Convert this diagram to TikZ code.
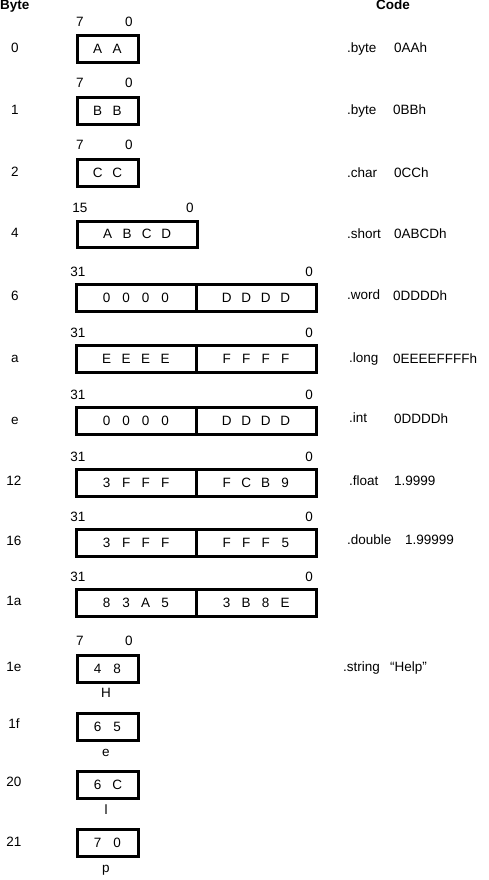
\documentclass[tikz,border=0pt]{standalone}
\usepackage{fontspec}
\setmainfont{Liberation Sans}
\newcommand\cx[1]{\makebox[19.5pt]{#1}}
\newcommand\wcell[1]{#1\hspace{6pt}}
\begin{document}
\begin{tikzpicture}[x=1pt,y=-1pt,
  font=\fontsize{13.5}{16}\selectfont,
  txt/.style={inner sep=0pt, text height=10pt, text depth=3pt},
  lt/.style={txt, anchor=west},
  hdr/.style={txt, font=\fontsize{13.5}{16}\selectfont\bfseries},
  cell/.style={draw, line width=3pt, inner sep=0pt, minimum height=27pt, anchor=north west},
  small/.style={cell, minimum width=61pt},
  half/.style={cell, minimum width=120pt}]
\useasboundingbox (0,0) rectangle (488,880);
% headers
\node[hdr, anchor=west] (hbyte) at (0,6.5) {Byte};
\node[hdr] (hcode) at (393,6.5) {Code};
% row 0
\node[small] (b0) at (75.5,34) {\cx{A}\cx{A}};
\node[txt] (b0h) at (80,23) {7};
\node[txt] (b0l) at (129,23) {0};
\node[txt] (b0a) at (15,49) {0};
\node[lt] (b0c) at (347,49) {.byte};
\node[lt] (b0v) at (394,49) {0AAh};
% row 1
\node[small] (b1) at (75.5,96) {\cx{B}\cx{B}};
\node[txt] (b1h) at (80,84) {7};
\node[txt] (b1l) at (129,84) {0};
\node[txt] (b1a) at (15,111) {1};
\node[lt] (b1c) at (347,111) {.byte};
\node[lt] (b1v) at (393,111) {0BBh};
% row 2
\node[small] (b2) at (75.5,158) {\cx{C}\cx{C}};
\node[txt] (b2h) at (80,146) {7};
\node[txt] (b2l) at (129,146) {0};
\node[txt] (b2a) at (15,173) {2};
\node[lt] (b2c) at (347,174) {.char};
\node[lt] (b2v) at (394,174) {0CCh};
% row 4
\node[cell, minimum width=120pt, minimum height=26pt] (b4) at (75.5,219.5) {\cx{A}\cx{B}\cx{C}\cx{D}\hspace{12pt}};
\node[txt] (b4h) at (80,209) {15};
\node[txt] (b4l) at (190,209) {0};
\node[txt] (b4a) at (15,234) {4};
\node[lt] (b4c) at (347,235) {.short};
\node[lt] (b4v) at (394,235) {0ABCDh};
% row 6
\node[half] (b6L) at (74.5,282.5) {\wcell{\cx{0}\cx{0}\cx{0}\cx{0}}};
\node[half] (b6R) at (194.5,282.5) {\wcell{\cx{D}\cx{D}\cx{D}\cx{D}}};
\node[txt] (b6h) at (78,273) {31};
\node[txt] (b6l) at (309,273) {0};
\node[txt] (b6a) at (15,297) {6};
\node[lt] (b6c) at (347,296) {.word};
\node[lt] (b6v) at (393,297) {0DDDDh};
% row a
\node[half] (baL) at (74.5,343.5) {\wcell{\cx{E}\cx{E}\cx{E}\cx{E}}};
\node[half] (baR) at (194.5,343.5) {\wcell{\cx{F}\cx{F}\cx{F}\cx{F}}};
\node[txt] (bah) at (78,334) {31};
\node[txt] (bal) at (309,334) {0};
\node[txt] (baa) at (15,359) {a};
\node[lt] (bac) at (349,359) {.long};
\node[lt] (bav) at (393,360) {0EEEEFFFFh};
% row e
\node[half] (beL) at (74.5,405.5) {\wcell{\cx{0}\cx{0}\cx{0}\cx{0}}};
\node[half] (beR) at (194.5,405.5) {\wcell{\cx{D}\cx{D}\cx{D}\cx{D}}};
\node[txt] (beh) at (78,396) {31};
\node[txt] (bel) at (309,396) {0};
\node[txt] (bea) at (15,421) {e};
\node[lt] (bec) at (349,419) {.int};
\node[lt] (bev) at (394,420) {0DDDDh};
% row 12
\node[half] (b12L) at (74.5,467.5) {\wcell{\cx{3}\cx{F}\cx{F}\cx{F}}};
\node[half] (b12R) at (194.5,467.5) {\wcell{\cx{F}\cx{C}\cx{B}\cx{9}}};
\node[txt] (b12h) at (78,458) {31};
\node[txt] (b12l) at (309,458) {0};
\node[txt] (b12a) at (14,482) {12};
\node[lt] (b12c) at (349,482) {.float};
\node[lt] (b12v) at (394,482) {1.9999};
% row 16
\node[half] (b16L) at (74.5,527.5) {\wcell{\cx{3}\cx{F}\cx{F}\cx{F}}};
\node[half] (b16R) at (194.5,527.5) {\wcell{\cx{F}\cx{F}\cx{F}\cx{5}}};
\node[txt] (b16h) at (78,518) {31};
\node[txt] (b16l) at (309,518) {0};
\node[txt] (b16a) at (14,542) {16};
\node[lt] (b16c) at (347,541) {.double};
\node[lt] (b16v) at (405,541) {1.99999};
% row 1a
\node[half] (b1aL) at (74.5,587.5) {\wcell{\cx{8}\cx{3}\cx{A}\cx{5}}};
\node[half] (b1aR) at (194.5,587.5) {\wcell{\cx{3}\cx{B}\cx{8}\cx{E}}};
\node[txt] (b1ah) at (78,578) {31};
\node[txt] (b1al) at (309,578) {0};
\node[txt] (b1aa) at (14,602) {1a};
% row 1e
\node[small] (b1e) at (75.5,654) {\cx{4}\cx{8}};
\node[txt] (b1eh) at (80,642) {7};
\node[txt] (b1el) at (129,642) {0};
\node[txt] (b1ea) at (14,668) {1e};
\node[txt] (b1ech) at (106,694) {H};
\node[lt] (b1ec) at (343,668) {.string};
\node[lt] (b1ev) at (390,668) {“Help”};
% row 1f
\node[small] (b1f) at (75.5,712) {\cx{6}\cx{5}};
\node[txt] (b1fa) at (14,725) {1f};
\node[txt] (b1fch) at (106,753) {e};
% row 20
\node[small] (b20) at (75.5,770) {\cx{6}\cx{C}};
\node[txt] (b20a) at (14,783) {20};
\node[txt] (b20ch) at (106,811) {l};
% row 21
\node[small] (b21) at (75.5,828) {\cx{7}\cx{0}};
\node[txt] (b21a) at (14,843) {21};
\node[txt] (b21ch) at (106,869) {p};
\end{tikzpicture}
\end{document}
